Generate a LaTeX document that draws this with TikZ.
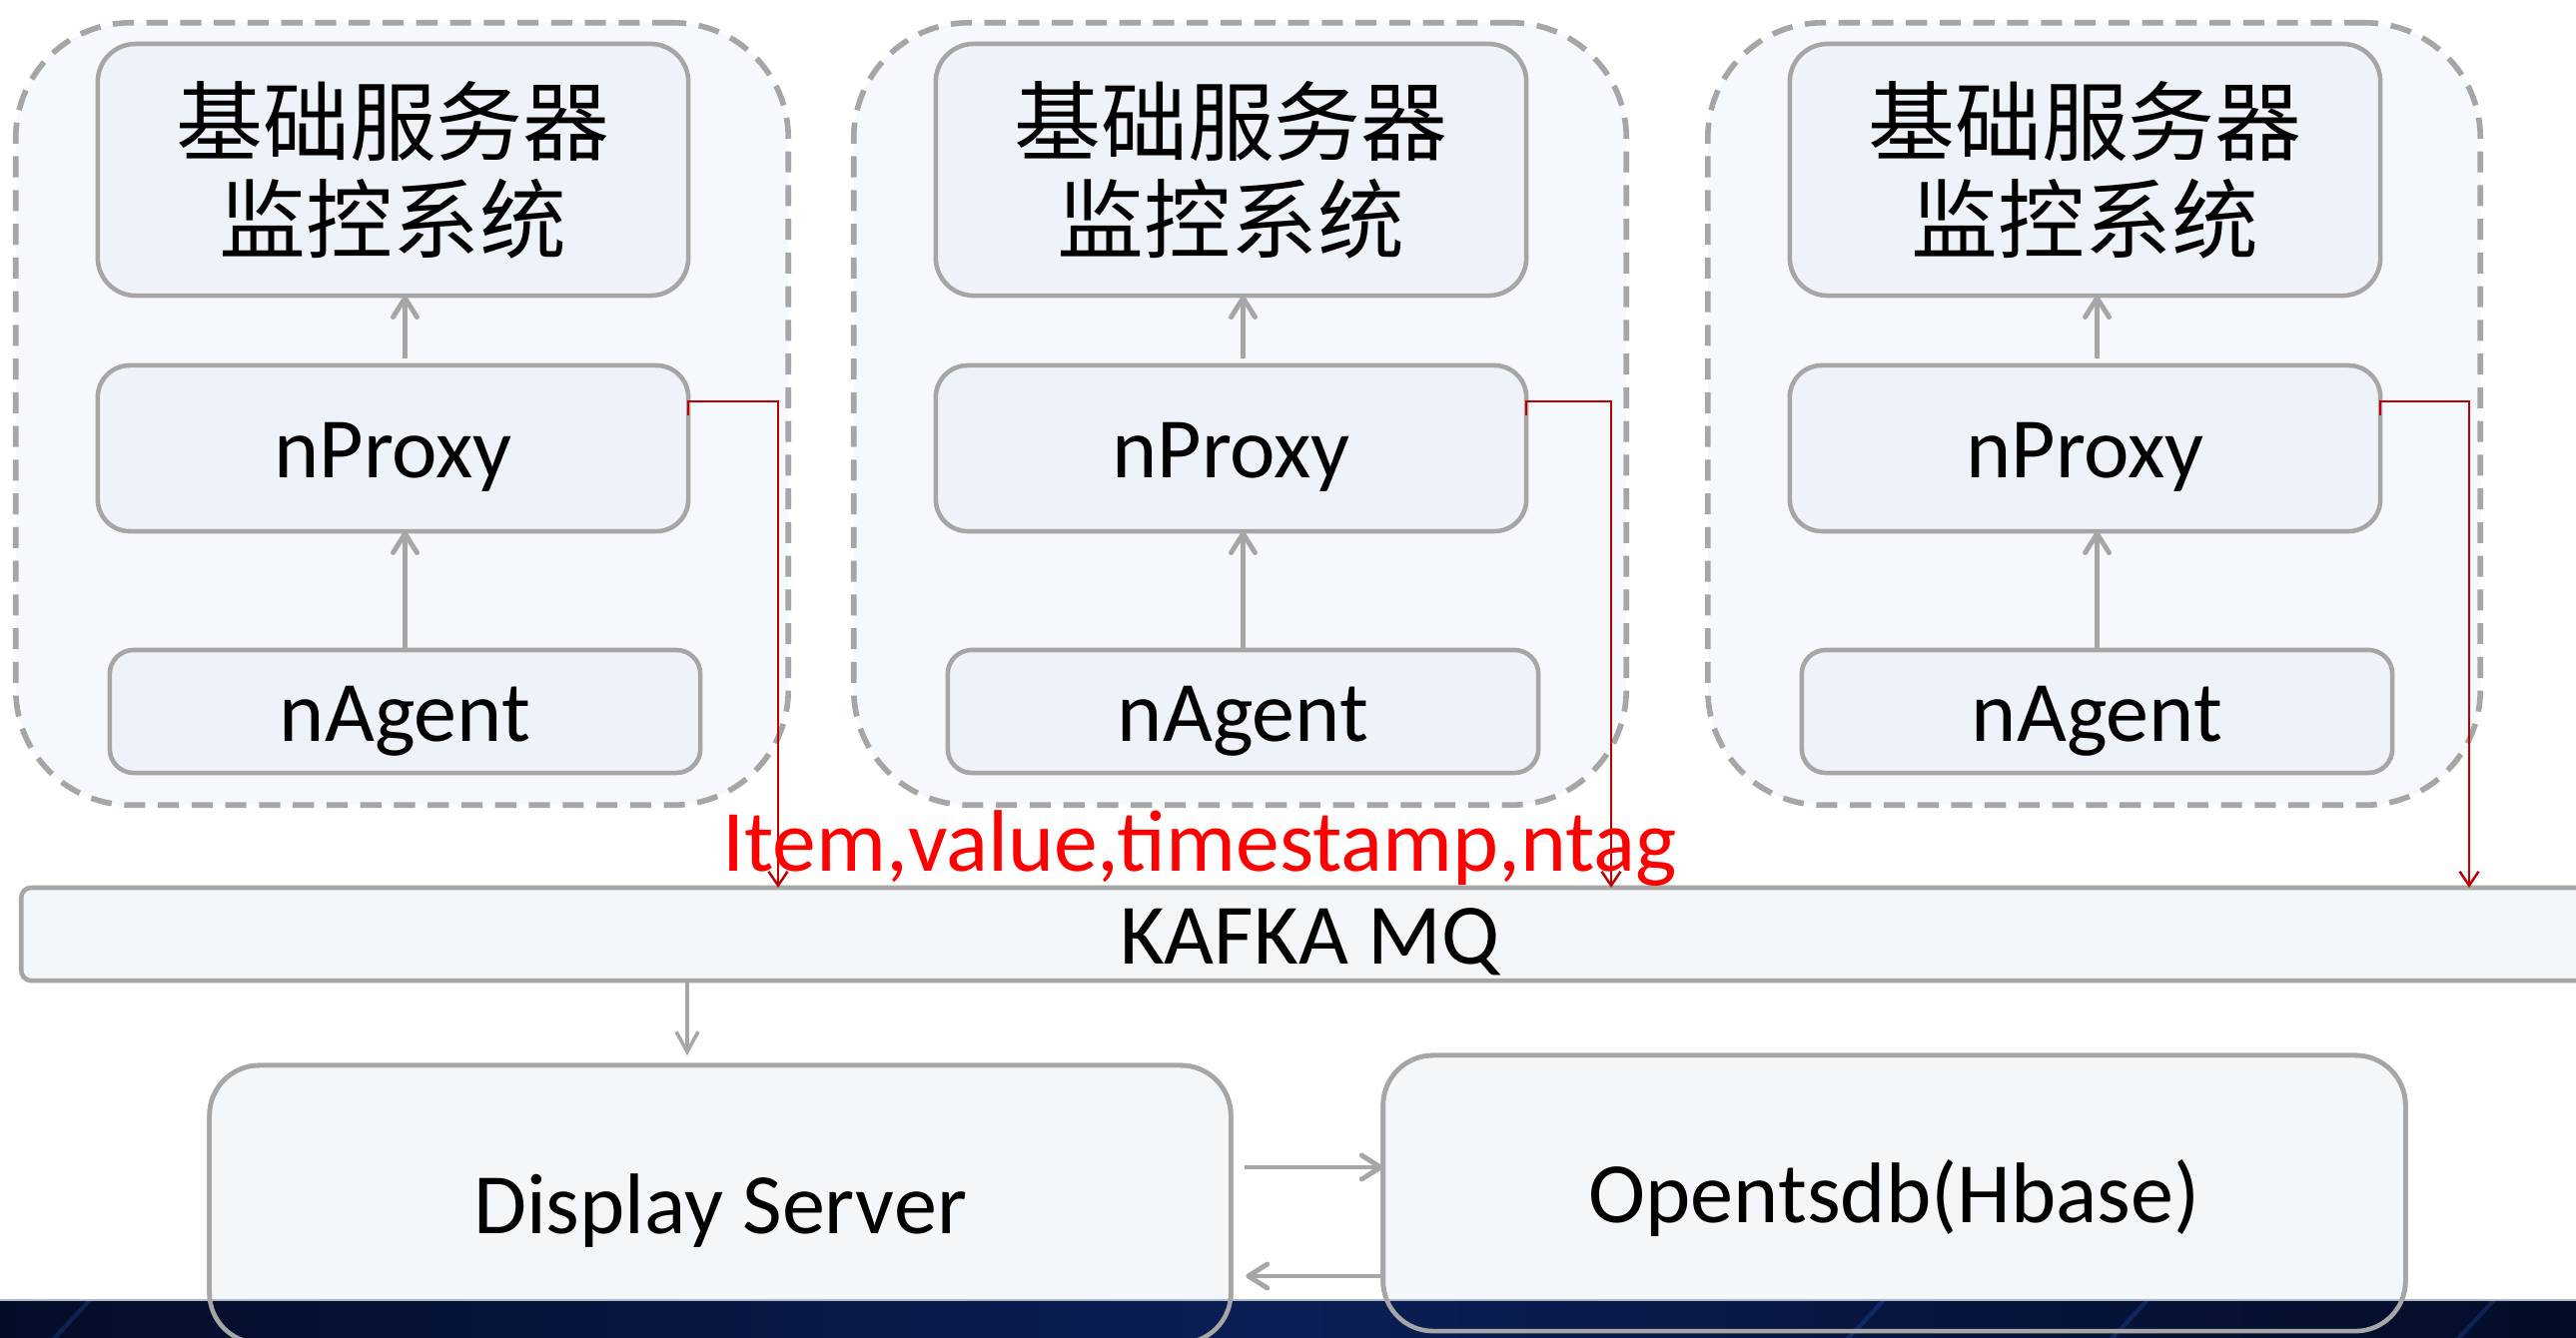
\documentclass[tikz,border=0pt]{standalone}
\usepackage{fontspec}
\setmainfont{Carlito}
\newfontfamily\cjk{Noto Sans CJK SC}
\usetikzlibrary{arrows.meta,calc}
\definecolor{bord}{HTML}{A6A6A6}
\definecolor{innerfill}{HTML}{EEF3FA}
\definecolor{outerfill}{HTML}{F5F8FC}
\definecolor{lightfill}{HTML}{F4F7FA}
\definecolor{darkred}{HTML}{C00000}
\definecolor{bandA}{HTML}{040D28}
\definecolor{bandB}{HTML}{0A1F56}
\definecolor{bandC}{HTML}{040C26}
\definecolor{streak}{HTML}{2456B8}
\definecolor{bandtop}{HTML}{AEB8C8}
\begin{document}
\begin{tikzpicture}[x=0.01cm,y=-0.01cm,
  box/.style={draw=bord, line width=1.3pt, fill=innerfill, rectangle, inner sep=0pt, outer sep=0pt},
  grp/.style={draw=bord, line width=1.6pt, fill=outerfill, dash pattern=on 6pt off 3.6pt, rounded corners=1.15cm, inner sep=0pt, outer sep=0pt},
  latin/.style={font=\fontsize{24.5pt}{29pt}\selectfont, text height=0.65cm, text depth=0.06cm},
  cjktxt/.style={font=\cjk\fontsize{24.7pt}{27.9pt}\selectfont, align=center},
  arr/.style={draw=bord, line width=1.4pt, -{Straight Barb[length=0.19cm,width=0.24cm,round]}},
  arrk/.style={draw=bord, line width=1pt, -{Straight Barb[length=0.2cm,width=0.22cm]}},
  redarr/.style={draw=darkred, line width=0.7pt, -{Straight Barb[length=0.14cm,width=0.19cm]}},
  lbl/.style={font=\fontsize{24.9pt}{29pt}\selectfont, text=red, anchor=base, inner sep=0pt},
]
\useasboundingbox (0,0) rectangle (2579,1339);
\clip (0,0) rectangle (2579,1339);
\fill[white] (0,0) rectangle (2579,1339);

% monitoring columns
\foreach \i/\dx in {1/0, 2/839, 3/1694}{
  \node[grp, minimum width=7.73cm, minimum height=7.83cm] (g\i) at (\dx+402.5, 414.5) {};
  \node[box, rounded corners=0.38cm, minimum width=5.91cm, minimum height=2.52cm, cjktxt] (t\i) at (\dx+393.5,170) {基础服务器\\监控系统};
  \node[box, rounded corners=0.32cm, minimum width=5.91cm, minimum height=1.66cm, latin] (p\i) at (\dx+393.5,449) {nProxy};
  \node[box, rounded corners=0.24cm, minimum width=5.91cm, minimum height=1.23cm, latin] (a\i) at (\dx+405.5,712.5) {nAgent};
  \draw[arr] (a\i.north) -- (a\i.north |- p\i.south);
  \draw[arr, shorten <=0.07cm] (a\i.north |- p\i.north) -- (a\i.north |- t\i.south);
}

% Kafka
\node[box, fill=lightfill, rounded corners=0.1cm, minimum width=25.78cm, minimum height=0.93cm, latin] (k) at (1311,935.5) {KAFKA MQ};

% red data flow
\foreach \i/\rx in {1/779, 2/1613, 3/2472}{
  \coordinate (r\i) at (\rx,402);
  \draw[redarr] ($(p\i.north east)+(0,50)$) |- (r\i) -- (r\i |- k.north);
}
\node[lbl] (lab) at (1201,872) {Item,value,timestamp,ntag};

% bottom boxes
\node[box, fill=lightfill, rounded corners=0.5cm, minimum width=10.22cm, minimum height=2.78cm, latin] (d) at (721,1206) {Display Server};
\node[box, fill=lightfill, rounded corners=0.5cm, minimum width=10.23cm, minimum height=2.76cm, latin] (o) at (1896.5,1195) {Opentsdb(Hbase)};

\coordinate (kx) at (688,0);
\draw[arrk, shorten >=0.1cm] (kx |- k.south) -- (kx |- d.north);
\coordinate (y1) at (0,1169);
\coordinate (y2) at (0,1278);
\draw[arr, shorten <=0.14cm] (d.east |- y1) -- (o.west |- y1);
\draw[arr, shorten >=0.15cm] (o.west |- y2) -- (d.east |- y2);

% dark band at the bottom
\shade[left color=bandA, right color=bandC, middle color=bandB] (0,1302) rectangle (2579,1345);
\foreach \sx in {90, 1886, 2150, 2497}{
  \draw[streak, opacity=0.3, line width=1.2pt] (\sx,1302) -- (\sx-40,1345);
}
\draw[bandtop, line width=0.6pt] (0,1302) -- (2579,1302);
\draw[draw=bord, line width=1.3pt, rounded corners=0.5cm] (d.south west) rectangle (d.north east);
\draw[draw=bord, line width=1.3pt, rounded corners=0.5cm] (o.south west) rectangle (o.north east);
\end{tikzpicture}
\end{document}
